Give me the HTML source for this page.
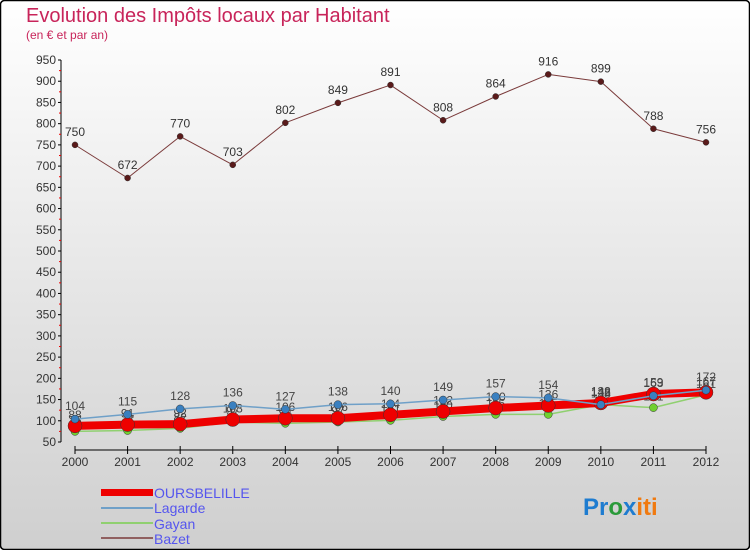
<!DOCTYPE html>
<html><head><meta charset="utf-8"><style>
html,body{margin:0;padding:0;}
body{width:750px;height:550px;overflow:hidden;font-family:"Liberation Sans",sans-serif;}
</style></head><body>
<svg id="chart" width="750" height="550" xmlns="http://www.w3.org/2000/svg" font-family="Liberation Sans, sans-serif">
<defs>
<linearGradient id="bg" x1="0" y1="0" x2="0" y2="1">
<stop offset="0" stop-color="#ffffff"/><stop offset="1" stop-color="#cfcfcf"/>
</linearGradient>
</defs>
<rect x="0.5" y="0.5" width="749" height="549" rx="4" fill="url(#bg)" stroke="#000" stroke-width="1.5"/>
<text x="26" y="22" font-size="20" fill="#c8245a">Evolution des Impôts locaux par Habitant</text>
<text x="26" y="39" font-size="12" fill="#c8245a">(en € et par an)</text>
<g id="axes"></g>
<g id="series"></g>
<g>
<rect x="101" y="489" width="52" height="7" fill="#ee0000"/>
<text x="154" y="498" font-size="14" fill="#5555ee">OURSBELILLE</text>
<rect x="101" y="507" width="52" height="2" fill="#6fa0c8"/>
<text x="154" y="513" font-size="14" fill="#5555ee">Lagarde</text>
<rect x="101" y="522" width="52" height="2" fill="#90d070"/>
<text x="154" y="529" font-size="14" fill="#5555ee">Gayan</text>
<rect x="101" y="537" width="52" height="2" fill="#906060"/>
<text x="154" y="544" font-size="14" fill="#5555ee">Bazet</text>
</g>
<g font-size="24" font-weight="bold">
<text x="583" y="515"><tspan fill="#1e7cd0">Pr</tspan><tspan fill="#2a9a3a">o</tspan><tspan fill="#1e7cd0">x</tspan><tspan fill="#f07a10">iti</tspan></text>
</g>
</svg>
<script>
const years=["2000","2001","2002","2003","2004","2005","2006","2007","2008","2009","2010","2011","2012"];
const yTicks=[50,100,150,200,250,300,350,400,450,500,550,600,650,700,750,800,850,900,950];
const oursbelille=[88,91,92,103,106,106,114,122,130,136,142,163,167];
const lagarde=[104,115,128,136,127,138,140,149,157,154,138,159,172];
const gayan=[75,77,82,97,94,97,101,110,115,115,138,131,161];
const bazet=[750,672,770,703,802,849,891,808,864,916,899,788,756];
const NS="http://www.w3.org/2000/svg";
function X(i){return 75+i*(706-75)/(years.length-1);}
function Y(v){return 442-(v-50)*(382/900);}
function el(tag,attrs,parent){const e=document.createElementNS(NS,tag);for(const k in attrs)e.setAttribute(k,attrs[k]);parent.appendChild(e);return e;}
const axes=document.getElementById('axes');
const ser=document.getElementById('series');
// y axis
const ya=el('line',{x1:61,y1:Y(950),x2:61,y2:Y(50),stroke:'#000'},axes);


yTicks.forEach(t=>{
  const tk=el('line',{x1:58,y1:Y(t),x2:61,y2:Y(t),stroke:'#000'},axes);
  
  
  const tx=el('text',{x:56,y:Y(t)+4,'text-anchor':'end','font-size':12,fill:'#333'},axes);
  tx.textContent=t;
  
  
  if(t<950){const m=el('line',{x1:59,y1:Y(t+25),x2:61,y2:Y(t+25),stroke:'#e00'},axes);
  
  }
});
// x axis
const xa=el('line',{x1:X(0),y1:450,x2:X(12),y2:450,stroke:'#000'},axes);


years.forEach((y,i)=>{
  const tk=el('line',{x1:X(i),y1:446,x2:X(i),y2:454,stroke:'#000'},axes);
  
  
  const tx=el('text',{x:X(i),y:466,'text-anchor':'middle','font-size':12,fill:'#333'},axes);
  tx.textContent=y;
  
  
});
function drawSeries(name,data,color,width,r,mcolor,labelColor,labelOffset){
  const g=el('g',{},ser);
  
  
  const pts=data.map((v,i)=>X(i)+','+Y(v)).join(' ');
  const pl=el('polyline',{points:pts,fill:'none',stroke:color,'stroke-width':width,'stroke-linejoin':'round'},g);
  
  
  data.forEach((v,i)=>{
    const c=el('circle',{cx:X(i),cy:Y(v),r:r,fill:mcolor,stroke:'#333','stroke-width':0.5},g);
    
    
    const t=el('text',{x:X(i),y:Y(v)+labelOffset,'text-anchor':'middle','font-size':12,fill:labelColor},g);
    t.textContent=v;
    
    
  });
}
drawSeries('bazet',bazet,'#7a3a3a',1,3,'#5a1a1a','#333',-9);
drawSeries('gayan',gayan,'#90d070',1.5,4,'#70d030','#444',-7);
drawSeries('oursbelille',oursbelille,'#ee0000',8,7,'#ee0000','#444',-7);
drawSeries('lagarde',lagarde,'#6fa0c8',1.5,4,'#3a80c0','#444',-9);
</script>
</body></html>
